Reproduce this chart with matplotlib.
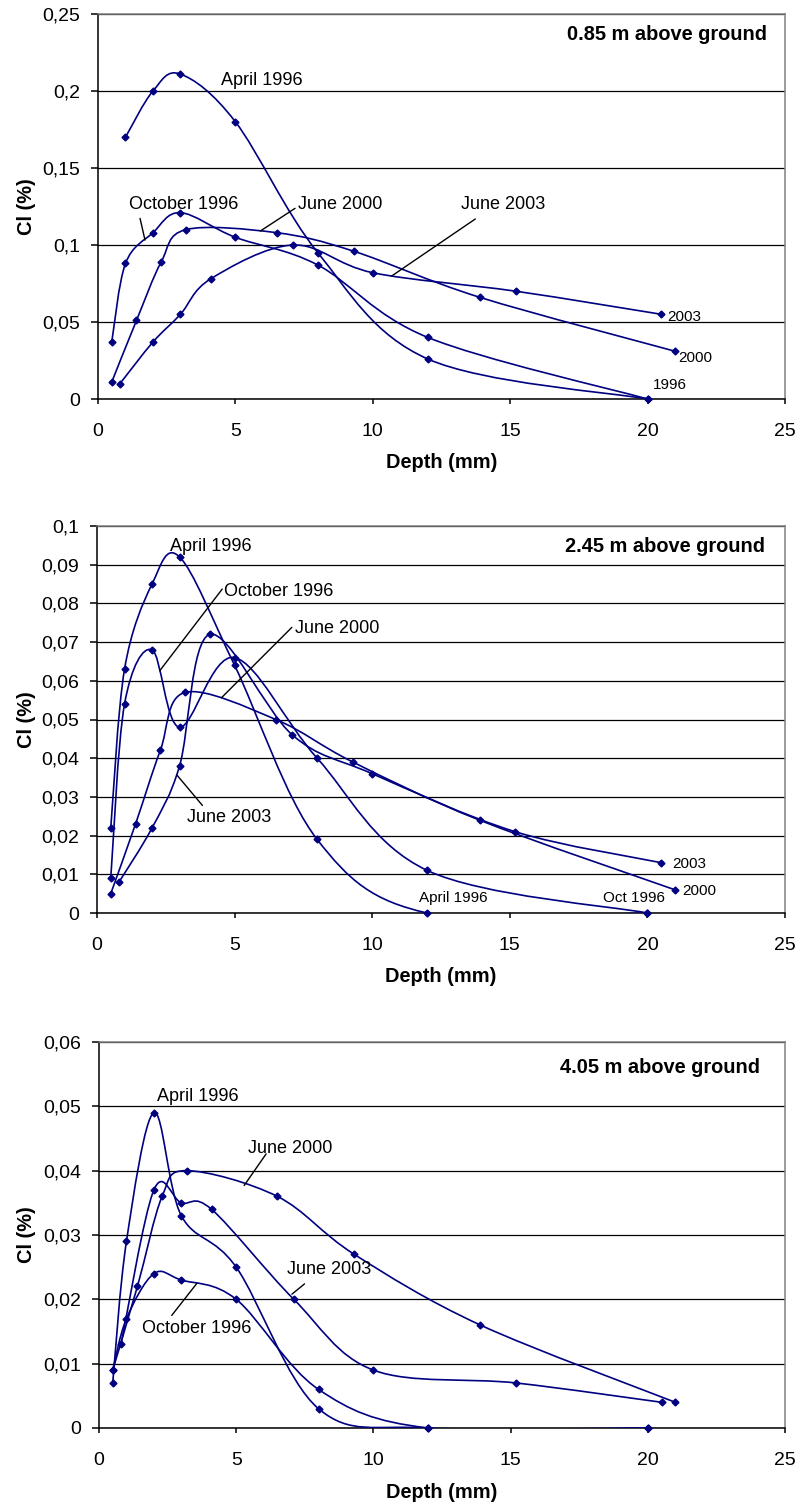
import numpy as np
import matplotlib
matplotlib.use('Agg')
import matplotlib.pyplot as plt
from matplotlib.path import Path
from matplotlib.patches import PathPatch
from matplotlib.ticker import MultipleLocator, FuncFormatter

plt.rcParams['font.family'] = ['Liberation Sans', 'DejaVu Sans']

# sampling depths (mm)
depth_1996 = [0.5, 1, 2, 3, 5, 8, 12, 20]
depth_apr96 = [1, 2, 3, 5, 8, 12, 20]
depth_2000 = [0.5, 1.4, 2.3, 3.2, 6.5, 9.3, 13.9, 21]
depth_2003 = [0.8, 2, 3, 4.1, 7.1, 10, 15.2, 20.5]

# Cl (%) at 0.85 m
cl085_apr96 = [0.170, 0.200, 0.211, 0.180, 0.095, 0.026, 0.0]
cl085_oct96 = [0.037, 0.088, 0.108, 0.121, 0.105, 0.087, 0.040, 0.0]
cl085_jun00 = [0.011, 0.051, 0.089, 0.110, 0.108, 0.096, 0.066, 0.031]
cl085_jun03 = [0.010, 0.037, 0.055, 0.078, 0.100, 0.082, 0.070, 0.055]

# Cl (%) at 2.45 m
cl245_apr96 = [0.022, 0.063, 0.085, 0.092, 0.064, 0.019, 0.0, 0.0]
cl245_oct96 = [0.009, 0.054, 0.068, 0.048, 0.066, 0.040, 0.011, 0.0]
cl245_jun00 = [0.005, 0.023, 0.042, 0.057, 0.050, 0.039, 0.024, 0.006]
cl245_jun03 = [0.008, 0.022, 0.038, 0.072, 0.046, 0.036, 0.021, 0.013]

# Cl (%) at 4.05 m
cl405_apr96 = [0.007, 0.029, 0.049, 0.033, 0.025, 0.003, 0.0, 0.0]
cl405_oct96 = [0.009, 0.017, 0.024, 0.023, 0.020, 0.006, 0.0, 0.0]
cl405_jun00 = [0.009, 0.022, 0.036, 0.040, 0.036, 0.027, 0.016, 0.004]
cl405_jun03 = [0.013, 0.037, 0.035, 0.034, 0.020, 0.009, 0.007, 0.004]

titles = ['0.85 m above ground', '2.45 m above ground', '4.05 m above ground']
ytops = [0.25, 0.1, 0.06]
ysteps = [0.05, 0.01, 0.01]

# labels: (text, x, y, size)
labels1 = [('April 1996', 4.46, 0.2065, 13), ('October 1996', 1.12, 0.1266, 13),
           ('June 2000', 7.28, 0.1266, 13), ('June 2003', 13.2, 0.1266, 13),
           ('2003', 20.7, 0.053, 11), ('2000', 21.1, 0.0266, 11), ('1996', 20.2, 0.009, 11)]
leaders1 = [((1.53, 0.1173), (1.71, 0.1032)), ((7.17, 0.1238), (5.91, 0.1091)),
            ((13.73, 0.1169), (10.69, 0.0799))]
labels2 = [('April 1996', 2.64, 0.0947, 13), ('October 1996', 4.6, 0.0832, 13),
           ('June 2000', 7.21, 0.0735, 13), ('June 2003', 3.28, 0.0247, 13),
           ('2003', 20.9, 0.0126, 11), ('2000', 21.27, 0.0057, 11),
           ('April 1996', 11.7, 0.0039, 11), ('Oct 1996', 18.37, 0.0039, 11)]
leaders2 = [((4.55, 0.0837), (2.28, 0.0626)), ((7.08, 0.0738), (4.52, 0.0556)),
            ((3.83, 0.0278), (2.91, 0.0356))]
labels3 = [('April 1996', 2.1, 0.0516, 13), ('June 2000', 5.44, 0.0435, 13),
           ('June 2003', 6.85, 0.0246, 13), ('October 1996', 1.58, 0.0155, 13)]
leaders3 = [((6.09, 0.0426), (5.29, 0.0377)), ((7.49, 0.0224), (7.03, 0.0208)),
            ((2.65, 0.0175), (3.57, 0.0225))]

navy = '#000080'


def smooth_path(xs, ys):
    # excel-like smoothed line: cubic bezier through the points
    pts = np.column_stack([xs, ys]).astype(float)
    n = len(pts)
    verts = [pts[0]]
    codes = [Path.MOVETO]
    for i in range(n - 1):
        p0 = pts[max(i - 1, 0)]
        p1 = pts[i]
        p2 = pts[i + 1]
        p3 = pts[min(i + 2, n - 1)]
        verts += [p1 + (p2 - p0) / 6, p2 - (p3 - p1) / 6, p2]
        codes += [Path.CURVE4] * 3
    return Path(verts, codes)


def comma(v, pos):
    return f"{round(v, 6):g}".replace('.', ',')


W, H = 801, 1504
fig = plt.figure(figsize=(W / 100, H / 100), dpi=100)

# axes boxes in pixels: left, right, top, bottom
boxes = [(98, 785, 14, 399), (97, 785, 526, 913), (99, 785, 1042, 1428)]
title_off = [(-18, -26), (-20, -26), (-25, -31)]

panels = [
    [(depth_apr96, cl085_apr96), (depth_1996, cl085_oct96), (depth_2000, cl085_jun00), (depth_2003, cl085_jun03)],
    [(depth_1996, cl245_apr96), (depth_1996, cl245_oct96), (depth_2000, cl245_jun00), (depth_2003, cl245_jun03)],
    [(depth_1996, cl405_apr96), (depth_1996, cl405_oct96), (depth_2000, cl405_jun00), (depth_2003, cl405_jun03)],
]
all_labels = [labels1, labels2, labels3]
all_leaders = [leaders1, leaders2, leaders3]

for k in range(3):
    l, r, t, b = boxes[k]
    ax = fig.add_axes([l / W, 1 - b / H, (r - l) / W, (b - t) / H])
    ax.set_xlim(0, 25)
    ax.set_ylim(0, ytops[k])
    ax.xaxis.set_major_locator(MultipleLocator(5))
    ax.yaxis.set_major_locator(MultipleLocator(ysteps[k]))
    ax.yaxis.set_major_formatter(FuncFormatter(comma))
    ax.set_axisbelow(True)
    ax.grid(axis='y', color='black', lw=0.9)
    ax.spines['left'].set_color('black')
    ax.spines['bottom'].set_color('black')
    ax.spines['top'].set_color('#808080')
    ax.spines['right'].set_color('#808080')
    for s in ax.spines.values():
        s.set_linewidth(1.1)
    ax.tick_params(axis='x', direction='out', length=3.6, width=1.1, pad=13.7, labelsize=14)
    ax.tick_params(axis='y', direction='out', length=5, width=1.1, pad=7.9, labelsize=14)

    for xs, ys in panels[k]:
        ax.add_patch(PathPatch(smooth_path(xs, ys), facecolor='none', edgecolor=navy, lw=1.2, zorder=3))
        ax.plot(xs, ys, 'D', ms=3.5, color=navy, zorder=4, clip_on=False)

    for txt, x, y, sz in all_labels[k]:
        ax.text(x, y, txt, fontsize=sz, ha='left', va='center')
    for p, q in all_leaders[k]:
        ax.annotate('', xy=q, xytext=p,
                    arrowprops=dict(arrowstyle='-', color='black', lw=1.0, shrinkA=0, shrinkB=0))

    ax.annotate(titles[k], xy=(1, 1), xycoords='axes fraction', xytext=title_off[k],
                textcoords='offset pixels', ha='right', va='baseline',
                fontsize=14.4, fontweight='bold')

    fig.text(27 / W, 1 - (t + b) / 2 / H, 'Cl (%)', rotation=90, ha='center', va='center',
             fontsize=14.4, fontweight='bold')
    fig.text((l + r) / 2 / W, 1 - (b + 64) / H, 'Depth (mm)', ha='center', va='center',
             fontsize=14.4, fontweight='bold')

fig.savefig('out.png', dpi=100)
